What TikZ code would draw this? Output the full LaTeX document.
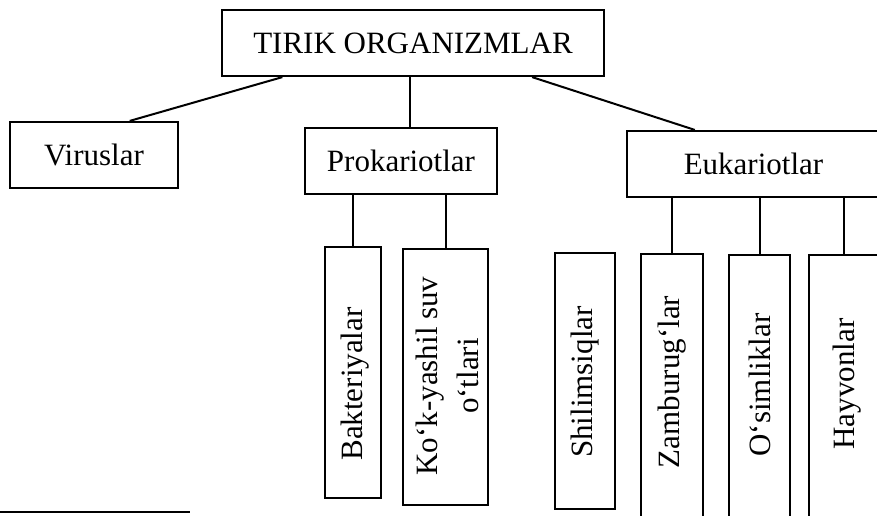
\documentclass[tikz,border=0pt]{standalone}
\usepackage{fontspec}
\setmainfont{Liberation Serif}
\usetikzlibrary{calc}
\begin{document}
\begin{tikzpicture}[x=1pt,y=-1pt,
  box/.style={draw,line width=2.2pt,inner sep=0pt},
  lbl/.style={font=\fontsize{31}{41}\selectfont,inner sep=0pt},
  vlbl/.style={lbl,rotate=90,align=center},
  conn/.style={line width=2pt}]
\useasboundingbox (0,0) rectangle (877,515);
\clip (0,0) rectangle (877,515);
% level 0/1 boxes
\node[box,lbl,minimum width=382pt,minimum height=66pt] (top) at (413,43) {TIRIK ORGANIZMLAR};
\node[box,lbl,minimum width=168pt,minimum height=66pt] (vir) at (94,155) {Viruslar};
\node[box,lbl,minimum width=192pt,minimum height=66pt] (pro) at (401,161) {Prokariotlar};
\node[box,lbl,minimum width=253pt,minimum height=66pt] (euk) at (753.5,164) {Eukariotlar};
% level 2 boxes
\node[box,minimum width=56pt,minimum height=251pt] (bak) at (353,372.5) {};
\node[box,minimum width=85pt,minimum height=256pt] (kok) at (445.5,377) {};
\node[box,minimum width=60pt,minimum height=256pt] (shi) at (585,381) {};
\node[box,minimum width=62pt,minimum height=276pt] (zam) at (672,392) {};
\node[box,minimum width=61pt,minimum height=276pt] (osi) at (759.5,393) {};
\node[box,minimum width=70pt,minimum height=276pt] (hay) at (844,393) {};
% labels
\node[vlbl] (bakT) at (355,384) {Bakteriyalar};
\node[vlbl] (kokT) at (447,376) {Ko‘k-yashil suv\\o‘tlari};
\node[vlbl] (shiT) at (585,382) {Shilimsiqlar};
\node[vlbl] (zamT) at (672,382) {Zamburug‘lar};
\node[vlbl] (osiT) at (760,385) {O‘simliklar};
\node[vlbl] (hayT) at (847,384) {Hayvonlar};
% connectors
\draw[conn] ($(top.south west)!0.16!(top.south east)$) -- ($(vir.north west)!0.71!(vir.north east)$);
\coordinate (t2) at ($(top.south west)!0.492!(top.south east)$);
\draw[conn] (t2) -- (t2 |- pro.north);
\draw[conn] ($(top.south west)!0.81!(top.south east)$) -- ($(euk.north west)!0.27!(euk.north east)$);
\draw[conn] (bak.north) -- (bak.north |- pro.south);
\draw[conn] (kok.north) -- (kok.north |- pro.south);
\draw[conn] (zam.north) -- (zam.north |- euk.south);
\draw[conn] (osi.north) -- (osi.north |- euk.south);
\draw[conn] (hay.north) -- (hay.north |- euk.south);
% scan edge line at bottom left
\coordinate (e1) at (0,512);
\coordinate (e2) at (190,512);
\draw[line width=2.5pt] (e1) -- (e2);
\end{tikzpicture}
\end{document}
